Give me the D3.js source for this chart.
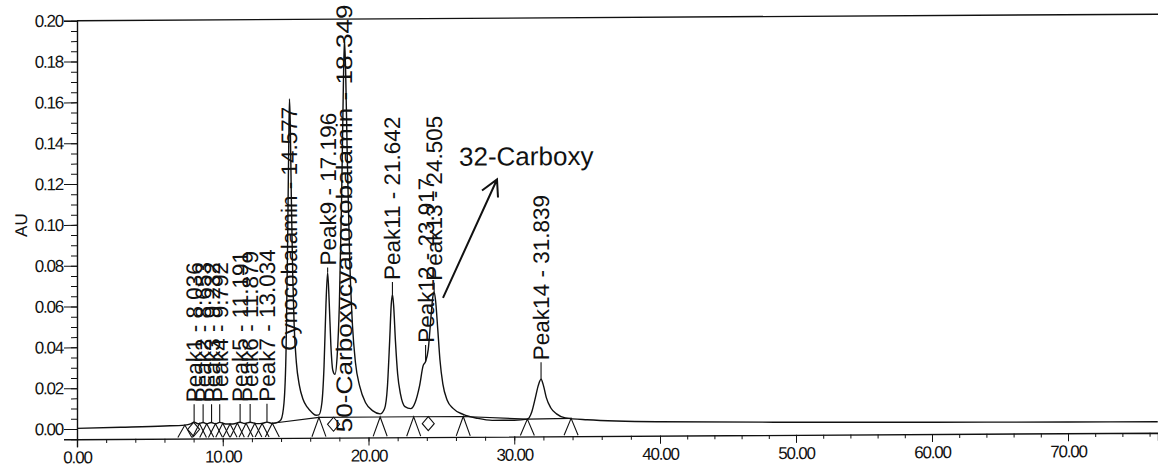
<!DOCTYPE html>
<html><head><meta charset="utf-8">
<script src="https://cdn.jsdelivr.net/npm/d3@7"></script>
<style>body{margin:0;background:#fff}svg{display:block}</style>
</head><body>
<svg id="chart" width="1158" height="468"></svg>
<script>
// ---------------- data ----------------
const traceTime = [0,3,6,7.4,7.8,8.036,8.3,8.653,8.9,9.2,9.5,9.792,10.2,10.7,11.191,11.5,11.879,12.3,12.7,13.034,13.4,13.8,14.0,14.2,14.35,14.45,14.53,14.577,14.63,14.7,14.8,14.9,15.05,15.25,15.5,15.8,16.1,16.4,16.6,16.8,16.95,17.08,17.196,17.3,17.42,17.55,17.7,17.85,18.0,18.15,18.27,18.349,18.43,18.55,18.7,18.9,19.1,19.4,19.8,20.3,20.8,21.1,21.3,21.45,21.56,21.642,21.72,21.85,22.0,22.2,22.5,22.9,23.2,23.5,23.75,23.917,24.1,24.3,24.42,24.505,24.6,24.75,24.9,25.1,25.4,25.8,26.5,27.5,28.5,30.0,30.9,31.2,31.45,31.65,31.839,32.0,32.2,32.5,32.9,33.5,35,40,50,60,70,76.6];
const traceAU = [0.0003,0.0007,0.0012,0.0016,0.0022,0.003,0.0022,0.0028,0.0022,0.0028,0.0022,0.0028,0.002,0.002,0.0028,0.0022,0.0028,0.0021,0.0022,0.0028,0.0022,0.0028,0.004,0.012,0.04,0.09,0.14,0.161,0.15,0.115,0.075,0.05,0.032,0.021,0.014,0.010,0.0075,0.006,0.0062,0.012,0.03,0.06,0.076,0.062,0.04,0.028,0.026,0.035,0.06,0.11,0.165,0.19,0.175,0.13,0.085,0.05,0.032,0.02,0.012,0.008,0.0065,0.009,0.02,0.042,0.06,0.065,0.06,0.042,0.026,0.016,0.010,0.009,0.012,0.02,0.03,0.032,0.038,0.055,0.064,0.066,0.062,0.048,0.033,0.021,0.013,0.009,0.006,0.004,0.003,0.003,0.0035,0.007,0.014,0.02,0.023,0.02,0.014,0.009,0.006,0.004,0.003,0.0018,0.0012,0.0008,0.0005,0.0004];

const peakNames = ["Peak1","Peak2","Peak3","Peak4","Peak5","Peak6","Peak7","Cynocobalamin","Peak9","50-Carboxycyanocobalamin","Peak11","Peak12","Peak13","Peak14"];
const peakTimes = [8.036,8.653,9.232,9.792,11.191,11.879,13.034,14.577,17.196,18.349,21.642,23.917,24.505,31.839];
const peakTimeLabels = ["8.036","8.653","9.232","9.792","11.191","11.879","13.034","14.577","17.196","18.349","21.642","23.917","24.505","31.839"];
const peakApexAU = [0.003,0.0028,0.0028,0.0028,0.0028,0.0028,0.0028,0.161,0.076,0.19,0.065,0.032,0.066,0.023];

const triangleTimes = [7.4,8.4,8.9,9.5,10.0,10.5,11.0,11.6,12.2,12.7,13.4,16.6,20.8,23.1,26.5,30.9,33.9];
const diamondTimes = [8.0,17.6,24.1];
const baselineTimes = [13.4,16.6,20.8,23.1,26.5,30.9,33.9];

const xMajorTicks = [0,10,20,30,40,50,60,70];
const yMajorTicks = [0,0.02,0.04,0.06,0.08,0.10,0.12,0.14,0.16,0.18,0.20];
const yAxisTitle = "AU";
const noteText = "32-Carboxy";

// ---------------- layout ----------------
const labelBottomY = [403,403,403,403,403,403,403,352,267,434,282,345,283,363];
const labelLength = [null,null,null,null,null,null,null,null,null,428,null,null,null,null];
const font = "'Liberation Sans', Arial, sans-serif";
const ink = "#111";

const svg = d3.select("#chart");
const g = svg.append("g").attr("transform","translate(0,0.46) skewY(-0.344)");

const x = d3.scaleLinear().domain([0,40,70,76.62]).range([77,660,1068,1158]);
const y = d3.scaleLinear().domain([-0.005,0.20]).range([439.2,20.7]);

// top frame line
g.append("line").attr("x1",x(0)).attr("x2",1158).attr("y1",y(0.20)).attr("y2",y(0.20))
  .attr("stroke",ink).attr("stroke-width",1.4);

// x axis
const xMinor = d3.range(0,77,2);
const xAxisMinor = d3.axisBottom(x).tickValues(xMinor).tickSize(4).tickFormat("");
const xAxisMajor = d3.axisBottom(x).tickValues(xMajorTicks).tickSize(8).tickPadding(4).tickFormat(d3.format(".2f"));
const gx1 = g.append("g").attr("transform",`translate(0,${y(-0.005)})`).call(xAxisMinor);
const gx2 = g.append("g").attr("transform",`translate(0,${y(-0.005)})`).call(xAxisMajor);
gx1.select(".domain").remove();
gx2.select(".domain").attr("stroke",ink).attr("stroke-width",1.4);
gx2.selectAll("text").attr("font-family",font).attr("font-size",17).attr("fill",ink).attr("letter-spacing","-1.2px");
gx1.selectAll("line").attr("stroke",ink);
gx2.selectAll("line").attr("stroke",ink);

// y axis
const yMinor = d3.range(-0.005,0.2001,0.005);
const yAxisMinor = d3.axisLeft(y).tickValues(yMinor).tickSize(6).tickFormat("");
const yAxisMajor = d3.axisLeft(y).tickValues(yMajorTicks).tickSize(13).tickPadding(1).tickFormat(d3.format(".2f"));
const gy1 = g.append("g").attr("transform",`translate(${x(0)},0)`).call(yAxisMinor);
const gy2 = g.append("g").attr("transform",`translate(${x(0)},0)`).call(yAxisMajor);
gy1.select(".domain").remove();
gy2.select(".domain").attr("stroke",ink).attr("stroke-width",1.4);
gy1.selectAll("line").attr("stroke",ink);
gy2.selectAll("line").attr("stroke",ink);
gy2.selectAll("text").attr("font-family",font).attr("font-size",17).attr("fill",ink).attr("letter-spacing","-1.2px");

g.append("text").attr("transform",`translate(27,${y(0.1)}) rotate(-90)`)
  .attr("text-anchor","middle").attr("font-family",font).attr("font-size",17).attr("fill",ink).text(yAxisTitle);

// trace
const pts = traceTime.map((t,i)=>[t,traceAU[i]]);
const line = d3.line().x(d=>x(d[0])).y(d=>y(d[1])).curve(d3.curveMonotoneX);
g.append("path").datum(pts).attr("d",line).attr("fill","none").attr("stroke",ink).attr("stroke-width",1.4);

const interp = t => { const i = d3.bisectLeft(traceTime,t); if(i<=0) return traceAU[0];
  const t0=traceTime[i-1],t1=traceTime[i]; return traceAU[i-1]+(traceAU[i]-traceAU[i-1])*(t-t0)/(t1-t0); };
const markAU = t => Math.min(interp(t),0.005);

// integration baseline
g.append("path").datum(baselineTimes.map(t=>[t,markAU(t)])).attr("d",d3.line().x(d=>x(d[0])).y(d=>y(d[1])))
  .attr("fill","none").attr("stroke",ink).attr("stroke-width",1.1);

// start/end markers
triangleTimes.forEach(t=>{
  const xa = x(t), ya = y(markAU(t));
  g.append("path").attr("d",`M${xa-7},${y(-0.0045)}L${xa},${ya}L${xa+7},${y(-0.0045)}`)
   .attr("fill","none").attr("stroke",ink).attr("stroke-width",1.1);
});
diamondTimes.forEach(t=>{
  const xa = x(t), yc = y(markAU(t)) + 7;
  g.append("path").attr("d",`M${xa},${yc-7}L${xa+6},${yc}L${xa},${yc+7}L${xa-6},${yc}Z`)
   .attr("fill","none").attr("stroke",ink).attr("stroke-width",1.1);
});

// peak labels
peakNames.forEach((n,i)=>{
  const px = x(peakTimes[i]);
  const yb = labelBottomY[i];
  const ya = y(peakApexAU[i]);
  if (ya > yb + 2) g.append("line").attr("x1",px).attr("x2",px).attr("y1",yb+2).attr("y2",ya).attr("stroke",ink).attr("stroke-width",1.1);
  const tx = g.append("text").attr("transform",`translate(${px+8},${yb}) rotate(-90)`)
    .attr("font-family",font).attr("font-size",22.5).attr("fill",ink)
    .text(`${n} - ${peakTimeLabels[i]}`);
  if (labelLength[i]) tx.attr("textLength",labelLength[i]).attr("lengthAdjust","spacingAndGlyphs");
});

// annotation
g.append("text").attr("x",459).attr("y",168).attr("font-family",font).attr("font-size",26).attr("fill",ink).text(noteText);
g.append("path").attr("d","M443,300L497,182M482,193L497,182L498,200").attr("fill","none").attr("stroke",ink).attr("stroke-width",2);
</script>
</body></html>
